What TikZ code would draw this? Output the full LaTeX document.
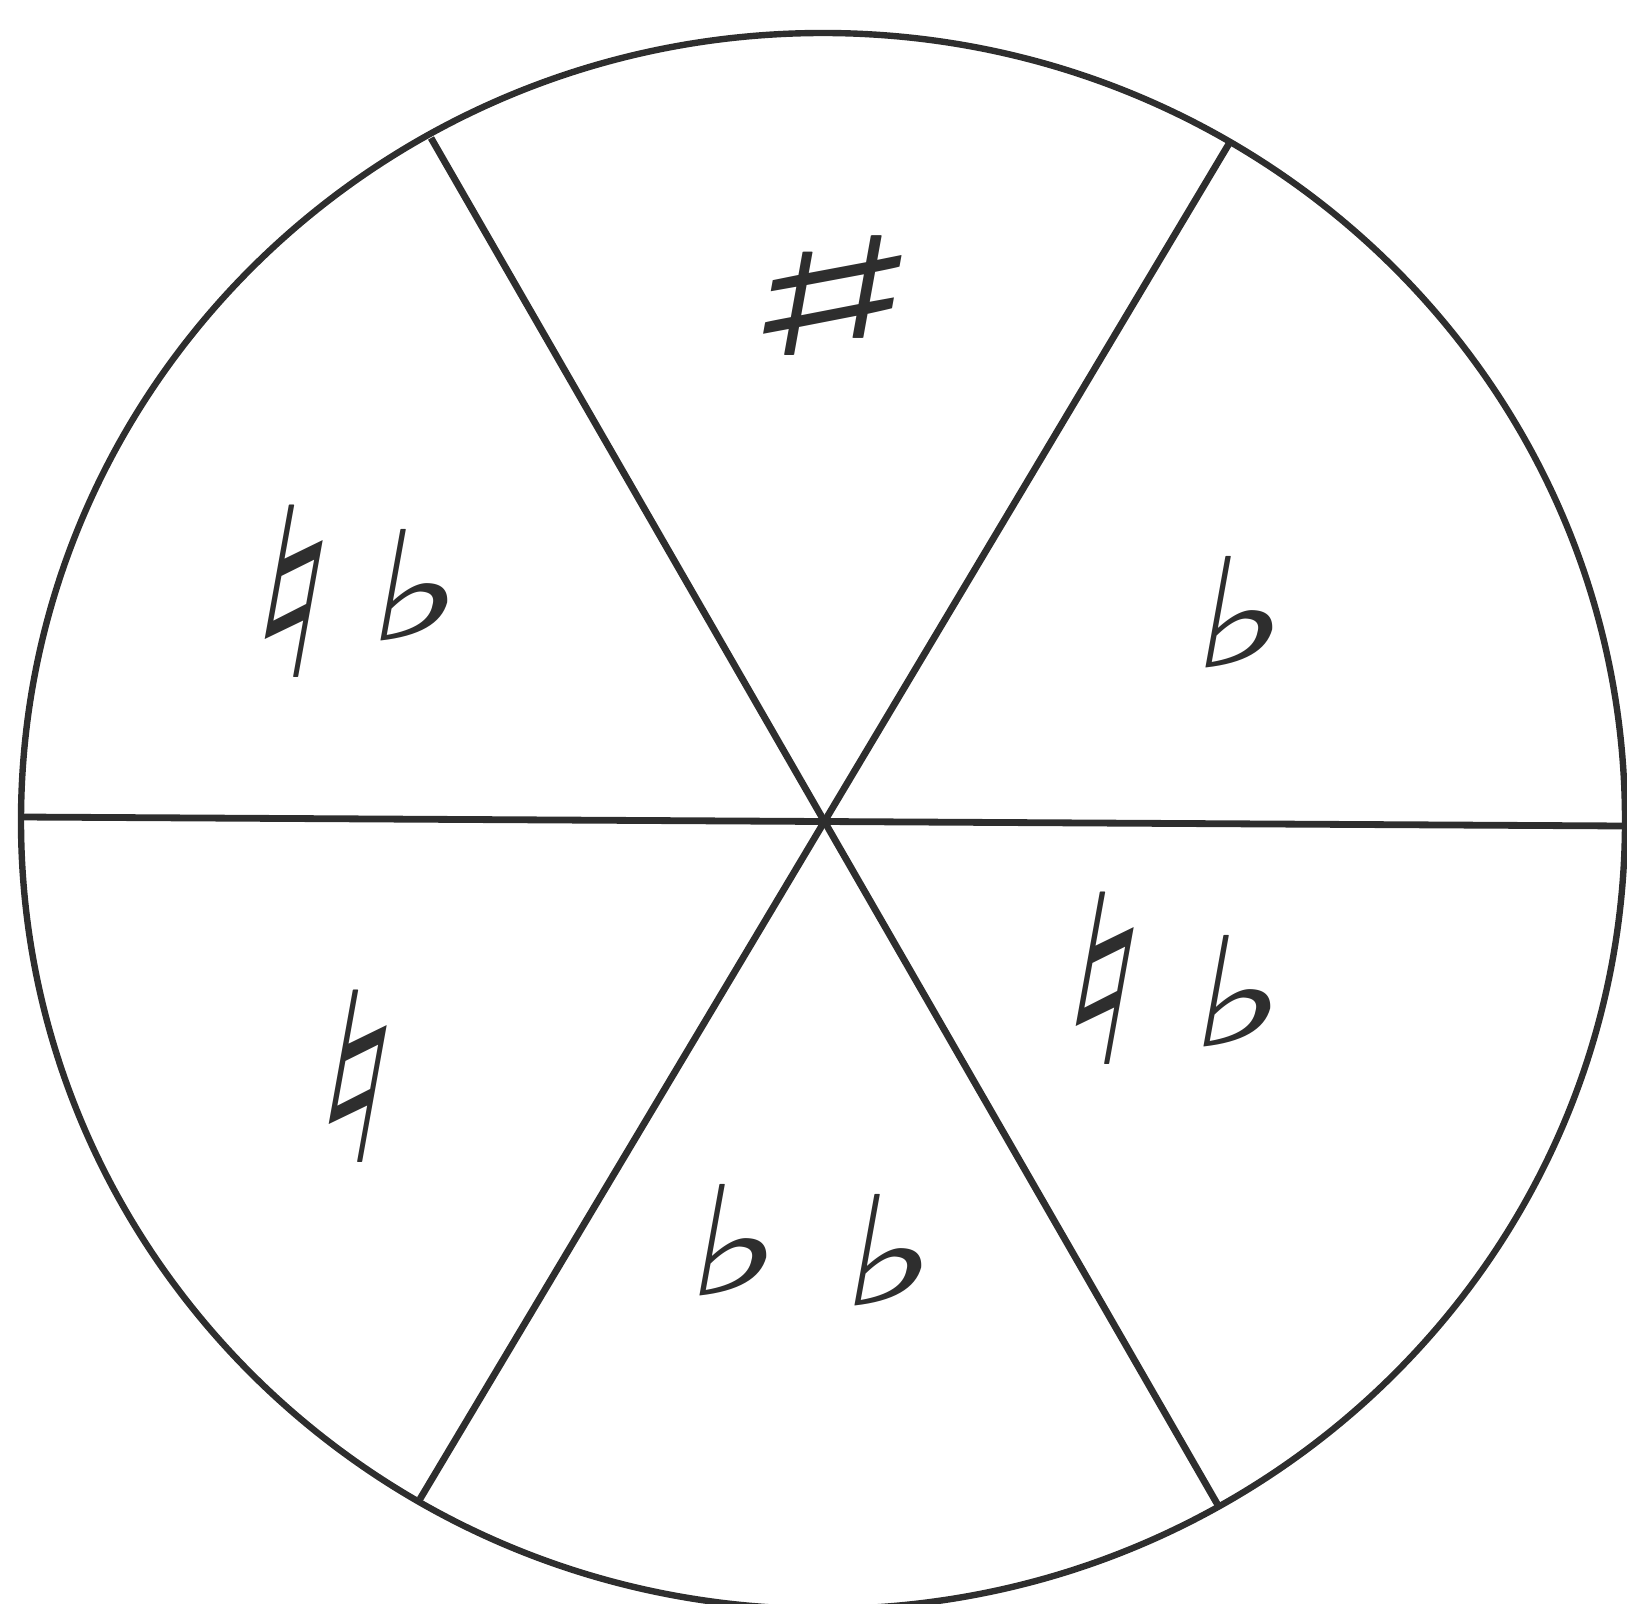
\documentclass[tikz,border=0pt]{standalone}
\usepackage{fontspec}
\newfontfamily\symfont{DejaVu Sans}
\definecolor{ink}{HTML}{2E2E2E}
\begin{document}
\begin{tikzpicture}[x=0.5pt,y=-0.5pt,
  rim/.style={draw=ink,line width=3.2pt},
  spoke/.style={draw=ink,line width=3.4pt},
  acc/.style={text=ink,inner sep=0pt,font=\symfont\bfseries\fontsize{76}{76}\selectfont,xslant=0.18,xscale=1.3},
  natacc/.style={acc,xscale=0.9/1.3,font=\symfont\bfseries\fontsize{118}{118}\selectfont},
  sharpacc/.style={acc,xscale=2.4/1.3,font=\symfont\bfseries\fontsize{82}{82}\selectfont}]
\useasboundingbox (0,0) rectangle (1627,1604);
\coordinate (c) at (823,821);
\coordinate (ul) at (431,138);
\coordinate (ur) at (1230,142);
\coordinate (ll) at (420,1499);
\coordinate (lr) at (1219,1507);
\coordinate (l) at (20,817);
\coordinate (r) at (1625,826);
\draw[rim] (c) ellipse [x radius=802, y radius=788];
\draw[spoke] (ul) -- (lr);
\draw[spoke] (ur) -- (ll);
\draw[spoke] (l) -- (r);
\node[sharpacc] (sharp) at (833,296) {♯};
\node[natacc] (n1) at (294,591) {♮};
\node[acc] (f1) at (420,585) {♭};
\node[acc] (f2) at (1245,612) {♭};
\node[natacc] (n2) at (1105,978) {♮};
\node[acc] (f3) at (1243,991) {♭};
\node[natacc] (n3) at (358,1076) {♮};
\node[acc] (f4) at (739,1240) {♭};
\node[acc] (f5) at (894,1250) {♭};
\end{tikzpicture}
\end{document}
